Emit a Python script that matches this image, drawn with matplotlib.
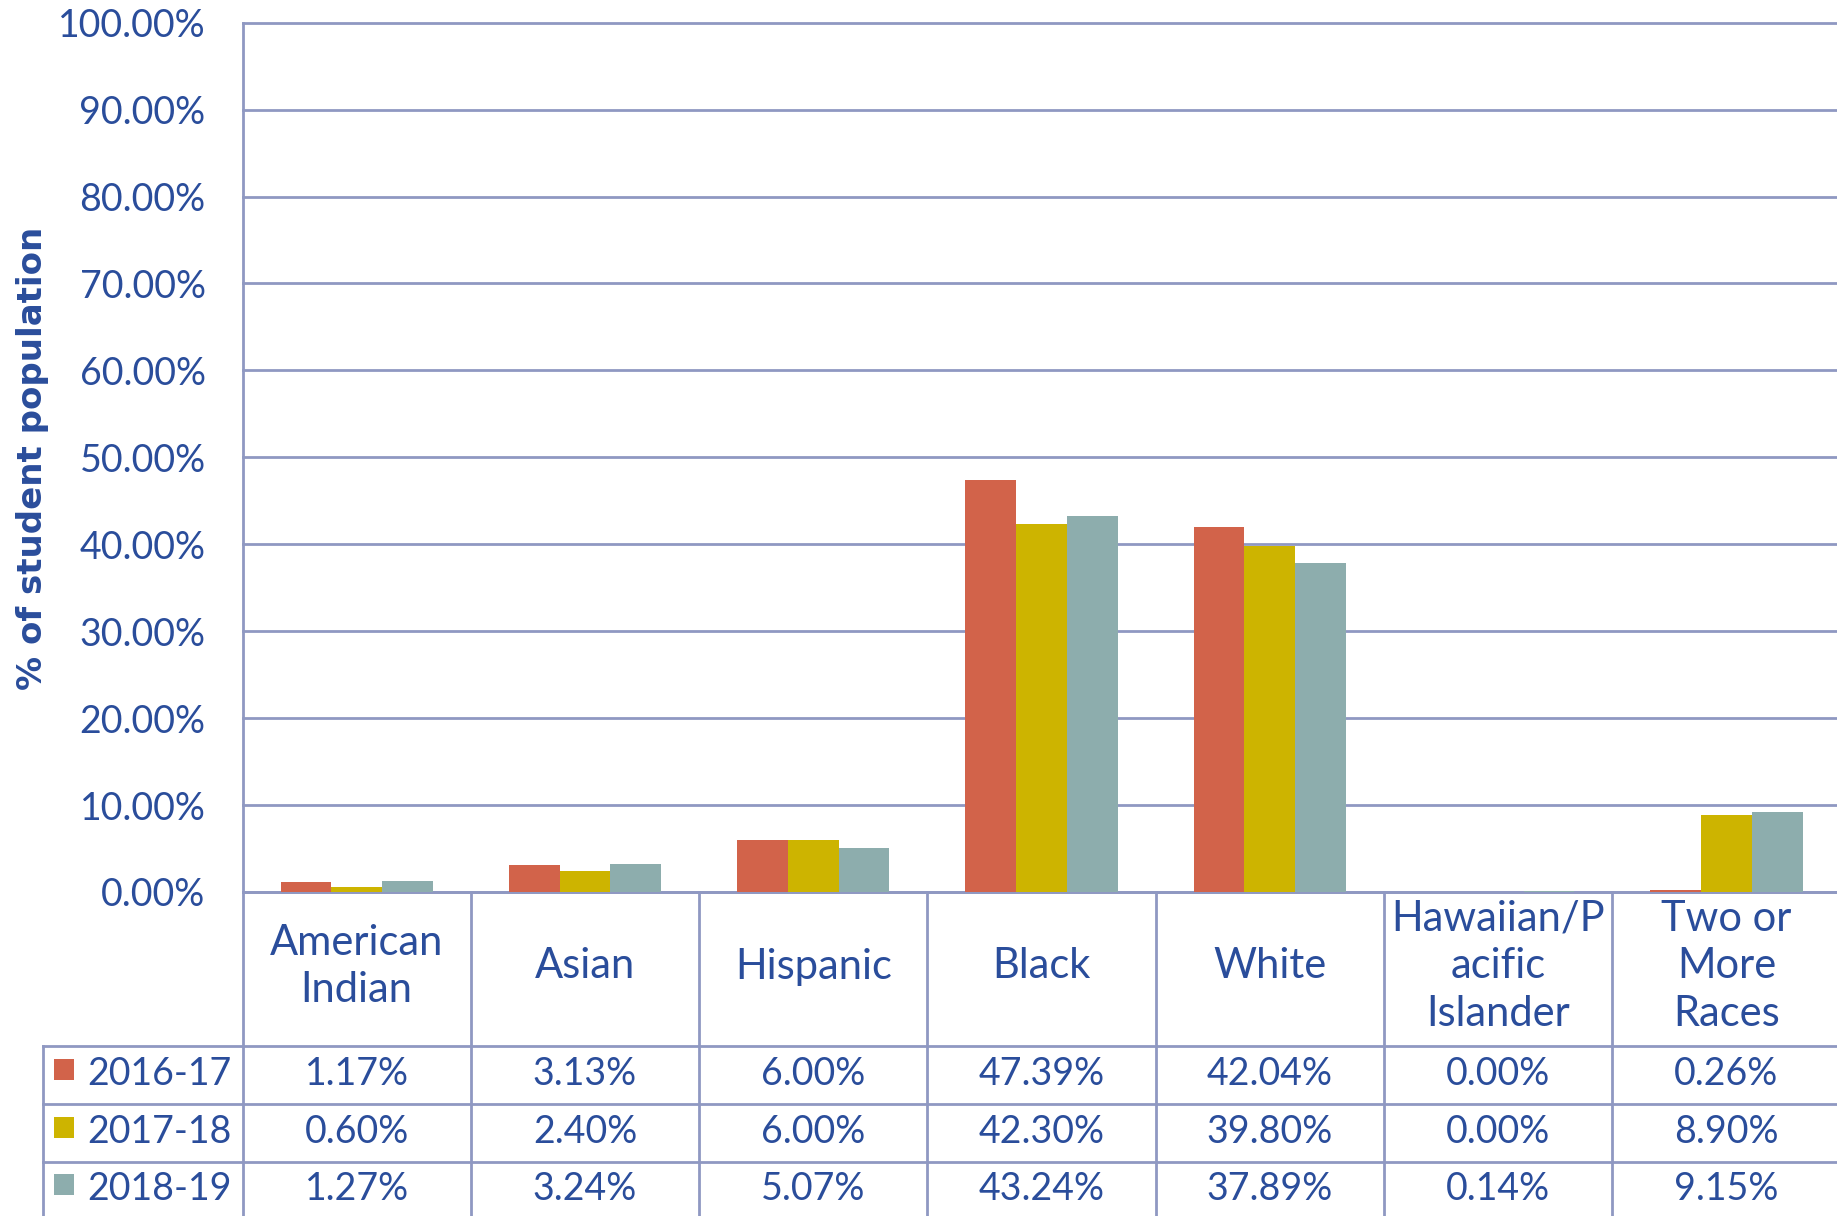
import matplotlib
matplotlib.use("Agg")
import matplotlib.pyplot as plt
from matplotlib.transforms import blended_transform_factory
from matplotlib.patches import Rectangle
from matplotlib.lines import Line2D
import numpy as np

categories = ["American\nIndian", "Asian", "Hispanic", "Black", "White",
              "Hawaiian/P\nacific\nIslander", "Two or\nMore\nRaces"]
series_names = ["2016-17", "2017-18", "2018-19"]
v2016 = [1.17, 3.13, 6.00, 47.39, 42.04, 0.00, 0.26]
v2017 = [0.60, 2.40, 6.00, 42.30, 39.80, 0.00, 8.90]
v2018 = [1.27, 3.24, 5.07, 43.24, 37.89, 0.14, 9.15]
series_values = [v2016, v2017, v2018]
yticks = [0, 10, 20, 30, 40, 50, 60, 70, 80, 90, 100]

colors = ["#D2634A", "#CDB400", "#8DADAD"]
TXT = "#2A4D9B"
GRID = "#8F98C2"
FONT = "Lato"
FS = 27
FS_HEAD = 30

W, H = 1837, 1216
fig = plt.figure(figsize=(W / 100, H / 100), dpi=100)
fig.patch.set_facecolor("white")

def fx(px):
    return px / W

def fy(py):
    return 1 - py / H

x0_px, x1_px = 242.5, 1840.6
y_top, y_zero = 22.7, 892.0
ax = fig.add_axes([fx(x0_px), fy(y_zero), (x1_px - x0_px) / W, (y_zero - y_top) / H])
ax.set_xlim(-0.5, len(categories) - 0.5)
ax.set_ylim(0, 100)

x = np.arange(len(categories))
bw = 0.2222
for i, (vals, c) in enumerate(zip(series_values, colors)):
    ax.bar(x + (i - 1) * bw, vals, width=bw, color=c, edgecolor="none",
           linewidth=0, zorder=5)

ax.set_yticks(yticks)
ax.set_yticklabels([f"{v:.2f}%" for v in yticks], fontsize=FS, color=TXT, family=FONT)
ax.tick_params(axis="y", length=0, pad=26.6)
ax.set_xticks([])
ax.yaxis.grid(True, color=GRID, linewidth=2)
for g in ax.get_ygridlines():
    g.set_clip_on(False)
ax.set_axisbelow(True)
for s in ["top", "right"]:
    ax.spines[s].set_visible(False)
for s in ["left", "bottom"]:
    ax.spines[s].set_color(GRID)
    ax.spines[s].set_linewidth(2)
    ax.spines[s].set_zorder(3)

fig.text(fx(33), fy(458), "% of student population", rotation=90,
         ha="center", va="center", fontsize=24.5, fontweight="bold",
         color=TXT, family="DejaVu Sans")

# data table
tb = blended_transform_factory(ax.transData, fig.transFigure)
for k in range(len(categories) + 1):
    fig.add_artist(Line2D([k - 0.5, k - 0.5], [fy(y_zero), 0], transform=tb,
                          color=GRID, linewidth=2, clip_on=False))
row_lines = [1046, 1104, 1162.3]
for yl in row_lines:
    fig.add_artist(Line2D([fx(43), 1], [fy(yl), fy(yl)], transform=fig.transFigure,
                          color=GRID, linewidth=2))
fig.add_artist(Line2D([fx(43), fx(43)], [fy(row_lines[0]), 0], transform=fig.transFigure,
                      color=GRID, linewidth=2))

# header labels
mid_base, lsp = 978.5, 47.8
for i, cat in enumerate(categories):
    lines = cat.split("\n")
    n = len(lines)
    for j, ln in enumerate(lines):
        yb = mid_base + (j - (n - 1) / 2) * lsp
        ax.text(i, fy(yb), ln, transform=tb, ha="center", va="baseline",
                fontsize=FS_HEAD, color=TXT, family=FONT, clip_on=False)

baselines = [1085, 1143.3, 1200]
for r, (name, vals, c) in enumerate(zip(series_names, series_values, colors)):
    yb = baselines[r]
    fig.add_artist(Rectangle((fx(53.6), fy(yb - 5)), 20 / W, 21 / H,
                             transform=fig.transFigure, facecolor=c, edgecolor="none"))
    fig.text(fx(87), fy(yb), name, ha="left", va="baseline", fontsize=FS,
             color=TXT, family=FONT)
    for i, v in enumerate(vals):
        ax.text(i, fy(yb), f"{v:.2f}%", transform=tb, ha="center", va="baseline",
                fontsize=FS, color=TXT, family=FONT, clip_on=False)

fig.savefig("out.png", dpi=100, facecolor="white")
